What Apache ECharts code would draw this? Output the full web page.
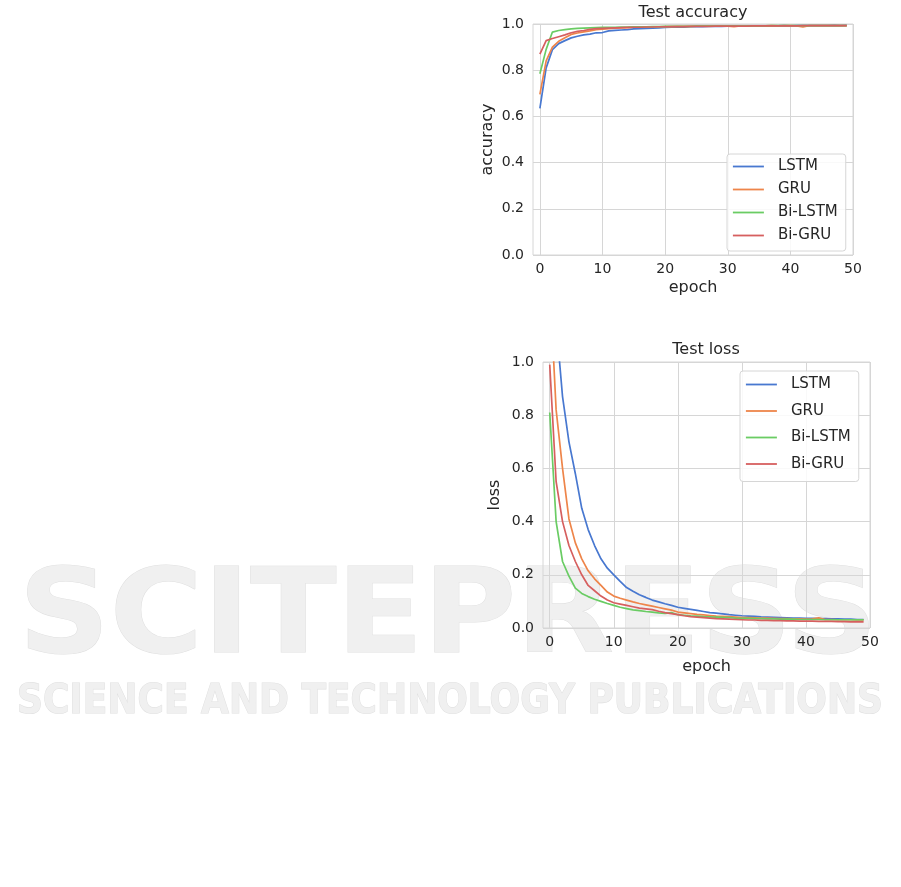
<!DOCTYPE html>
<html>
<head>
<meta charset="utf-8">
<script src="https://cdn.jsdelivr.net/npm/echarts@6/dist/echarts.min.js"></script>
<style>
html,body{margin:0;padding:0;background:#fff;}
#c{width:901px;height:887px;}
</style>
</head>
<body>
<div id="c"></div>
<script>
const epochs = [0,1,2,3,4,5,6,7,8,9,10,11,12,13,14,15,16,17,18,19,20,21,22,23,24,25,26,27,28,29,30,31,32,33,34,35,36,37,38,39,40,41,42,43,44,45,46,47,48,49];
const seriesNames = ['LSTM','GRU','Bi-LSTM','Bi-GRU'];
const xTicks = [0,10,20,30,40,50];

const accLSTM = [0.635,0.810,0.889,0.915,0.928,0.940,0.947,0.953,0.956,0.962,0.963,0.970,0.972,0.974,0.976,0.979,0.980,0.981,0.982,0.983,0.985,0.986,0.987,0.986,0.988,0.988,0.989,0.990,0.990,0.990,0.991,0.991,0.991,0.992,0.991,0.992,0.992,0.992,0.992,0.993,0.992,0.993,0.993,0.993,0.993,0.993,0.993,0.994,0.993,0.994];
const accGRU = [0.695,0.840,0.900,0.925,0.940,0.955,0.961,0.966,0.970,0.975,0.978,0.980,0.982,0.983,0.984,0.986,0.986,0.987,0.988,0.988,0.989,0.989,0.990,0.990,0.990,0.991,0.991,0.991,0.991,0.992,0.991,0.988,0.992,0.992,0.992,0.992,0.992,0.993,0.992,0.993,0.993,0.992,0.987,0.993,0.993,0.993,0.993,0.993,0.993,0.993];
const accBiLSTM = [0.785,0.890,0.965,0.972,0.976,0.979,0.981,0.982,0.983,0.984,0.985,0.986,0.986,0.987,0.987,0.988,0.988,0.988,0.989,0.989,0.990,0.990,0.990,0.990,0.990,0.991,0.991,0.991,0.991,0.991,0.992,0.992,0.992,0.992,0.992,0.992,0.992,0.993,0.993,0.993,0.993,0.993,0.993,0.993,0.993,0.993,0.993,0.993,0.993,0.993];
const accBiGRU = [0.870,0.928,0.937,0.945,0.953,0.962,0.968,0.972,0.977,0.980,0.981,0.982,0.983,0.984,0.985,0.986,0.986,0.987,0.987,0.988,0.988,0.989,0.989,0.989,0.990,0.990,0.990,0.990,0.991,0.991,0.991,0.991,0.991,0.991,0.992,0.992,0.992,0.992,0.992,0.992,0.992,0.992,0.993,0.993,0.993,0.993,0.993,0.993,0.993,0.993];

const lossLSTM = [1.60,1.15,0.87,0.70,0.58,0.45,0.37,0.31,0.26,0.225,0.200,0.175,0.152,0.138,0.125,0.115,0.105,0.098,0.091,0.085,0.078,0.074,0.070,0.066,0.062,0.058,0.056,0.053,0.050,0.048,0.046,0.045,0.044,0.042,0.041,0.040,0.039,0.038,0.037,0.037,0.036,0.036,0.035,0.035,0.034,0.034,0.033,0.033,0.032,0.032];
const lossGRU = [1.30,0.82,0.60,0.41,0.32,0.26,0.215,0.185,0.160,0.135,0.120,0.112,0.105,0.098,0.092,0.087,0.082,0.077,0.072,0.067,0.060,0.057,0.054,0.051,0.049,0.047,0.045,0.044,0.043,0.041,0.039,0.039,0.038,0.037,0.037,0.036,0.035,0.035,0.034,0.034,0.033,0.034,0.038,0.032,0.032,0.031,0.031,0.031,0.030,0.030];
const lossBiLSTM = [0.81,0.40,0.25,0.195,0.150,0.130,0.118,0.108,0.100,0.092,0.085,0.078,0.073,0.068,0.065,0.062,0.060,0.057,0.055,0.058,0.050,0.048,0.046,0.045,0.043,0.042,0.041,0.040,0.039,0.037,0.036,0.036,0.035,0.035,0.034,0.034,0.033,0.033,0.033,0.032,0.032,0.032,0.032,0.031,0.031,0.031,0.031,0.031,0.031,0.031];
const lossBiGRU = [0.99,0.55,0.40,0.31,0.25,0.20,0.160,0.140,0.120,0.105,0.095,0.090,0.085,0.080,0.075,0.072,0.069,0.063,0.058,0.054,0.050,0.046,0.043,0.041,0.039,0.037,0.035,0.034,0.033,0.032,0.031,0.030,0.030,0.029,0.029,0.028,0.028,0.027,0.027,0.026,0.026,0.026,0.025,0.025,0.025,0.024,0.024,0.023,0.023,0.023];

const colors = ['#4878d0','#ee854a','#6acc64','#d65f5f'];
const accData = [accLSTM, accGRU, accBiLSTM, accBiGRU];
const lossData = [lossLSTM, lossGRU, lossBiLSTM, lossBiGRU];

const FONT = 'DejaVu Sans';
const TXT = '#262626';
const GRID = '#d6d6d6';

function pairs(vals){ return epochs.map((e,i)=>[e, vals[i]]); }

function xAxis(gi, min, gap){
  return {
    type:'value', gridIndex:gi, min:min, max:50,
    axisLine:{show:false},
    axisTick:{show:false, customValues:xTicks},
    axisLabel:{customValues:xTicks, fontFamily:FONT, fontSize:14, color:TXT, margin:7},
    splitLine:{show:true, lineStyle:{color:GRID, width:1}},
    name:'epoch', nameLocation:'middle', nameGap:gap,
    nameTextStyle:{fontFamily:FONT, fontSize:16, color:TXT}
  };
}
function yAxis(gi, name, gap){
  return {
    type:'value', gridIndex:gi, min:0, max:1, interval:0.2,
    axisLine:{show:false}, axisTick:{show:false},
    axisLabel:{formatter:v=>v.toFixed(1), fontFamily:FONT, fontSize:14, color:TXT, margin:9},
    splitLine:{show:true, lineStyle:{color:GRID, width:1}},
    name:name, nameLocation:'middle', nameGap:gap, nameRotate:90,
    nameTextStyle:{fontFamily:FONT, fontSize:16, color:TXT}
  };
}
function legend(left, top, gap, pad){
  return {
    orient:'vertical', left:left, top:top, itemWidth:31, itemHeight:14, itemGap:gap,
    padding:pad, backgroundColor:'rgba(255,255,255,0.85)', borderColor:GRID, borderWidth:1, borderRadius:3,
    itemStyle:{opacity:0},
    lineStyle:{width:1.8},
    textStyle:{fontFamily:FONT, fontSize:15, color:TXT, padding:[0,0,0,9]},
    data:seriesNames, selectedMode:false
  };
}

const series = [];
seriesNames.forEach((n,i)=>{
  series.push({type:'line', name:n, xAxisIndex:0, yAxisIndex:0, data:pairs(accData[i]),
    symbol:'none', showSymbol:false, clip:true, color:colors[i], lineStyle:{width:1.7, color:colors[i]}, animation:false});
});
seriesNames.forEach((n,i)=>{
  series.push({type:'line', name:n, xAxisIndex:1, yAxisIndex:1, data:pairs(lossData[i]),
    symbol:'none', showSymbol:false, clip:true, color:colors[i], lineStyle:{width:1.7, color:colors[i]}, animation:false});
});

const chart = echarts.init(document.getElementById('c'), null, {renderer:'canvas'});
chart.setOption({
  backgroundColor:'#ffffff',
  animation:false,
  grid:[
    {left:533, top:24, width:320, height:231, show:true, borderColor:GRID, borderWidth:1, backgroundColor:'transparent'},
    {left:543, top:362, width:327, height:266, show:true, borderColor:GRID, borderWidth:1, backgroundColor:'transparent'}
  ],
  xAxis:[xAxis(0,-1.1,25), xAxis(1,-1.05,31)],
  yAxis:[yAxis(0,'accuracy',37), yAxis(1,'loss',40)],
  legend:[legend(727,154,8,[5,8,8,5]), legend(740,371,11.5,[6,8,10,5])],
  graphic:[
    {type:'text', z:-10, x:448, y:621, scaleX:1.075, style:{text:'SCITEPRESS', font:'bold 118px "DejaVu Sans"', fill:'#f0f0f0', stroke:'#e0e0e0', lineWidth:1, align:'center', verticalAlign:'middle'}},
    {type:'text', z:-10, x:450, y:703, scaleY:1.12, style:{text:'SCIENCE AND TECHNOLOGY PUBLICATIONS', font:'bold 36px "DejaVu Sans"', fill:'#f0f0f0', stroke:'#e0e0e0', lineWidth:1, align:'center', verticalAlign:'middle'}},
    {type:'text', x:693, y:13, style:{text:'Test accuracy', font:'16px "DejaVu Sans"', fill:TXT, align:'center', verticalAlign:'middle'}},
    {type:'text', x:706, y:350, style:{text:'Test loss', font:'16px "DejaVu Sans"', fill:TXT, align:'center', verticalAlign:'middle'}}
  ],
  series:series
});
</script>
</body>
</html>
